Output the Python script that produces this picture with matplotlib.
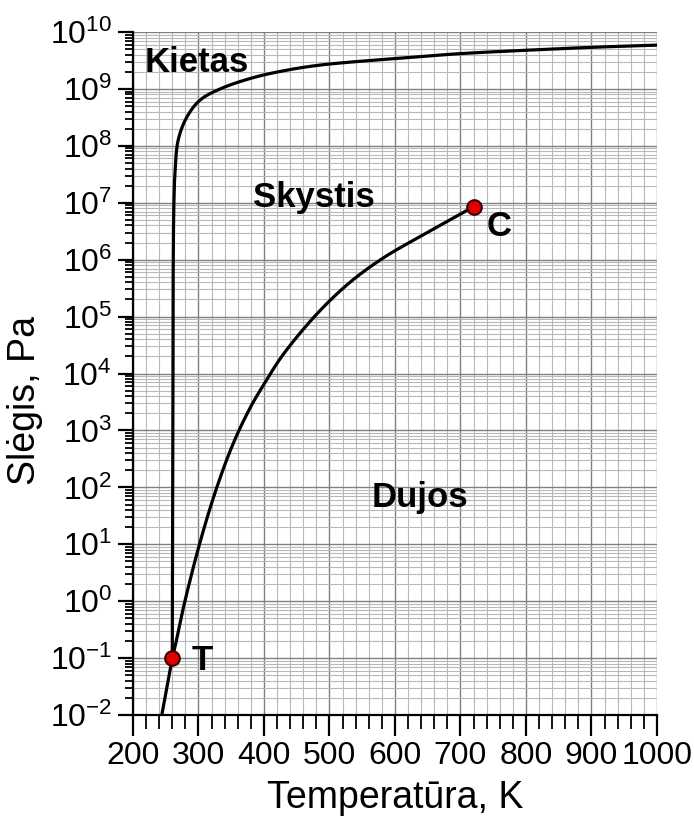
import matplotlib
matplotlib.use("Agg")
import matplotlib.pyplot as plt
import numpy as np
from matplotlib.ticker import MultipleLocator, LogLocator, LogFormatterMathtext, NullFormatter

plt.rcParams['font.family'] = ['Liberation Sans', 'DejaVu Sans']
plt.rcParams['mathtext.fontset'] = 'custom'
plt.rcParams['mathtext.rm'] = 'Liberation Sans'
plt.rcParams['mathtext.it'] = 'Liberation Sans:italic'
plt.rcParams['mathtext.bf'] = 'Liberation Sans:bold'

# Melting curve (solid-liquid), T in K, log10 of pressure in Pa
melt_T = [260, 261, 261.5, 262.5, 264, 269, 282, 302, 333, 384, 435, 486, 562, 608, 699, 801, 898, 1000]
melt_logP = [-1.0, 3.0, 6.0, 7.0, 7.5, 8.1, 8.5, 8.8, 9.0, 9.2, 9.33, 9.42, 9.5, 9.54, 9.62, 9.68, 9.73, 9.77]

# Vaporization curve (liquid-gas)
vap_T = [260, 264, 276, 302, 328, 353, 379, 402, 429, 481, 531, 582, 634, 684, 720]
vap_logP = [-1.0, -0.81, -0.16, 1.02, 2.0, 2.77, 3.4, 3.85, 4.33, 5.05, 5.6, 6.03, 6.38, 6.7, 6.93]

# Sublimation curve (solid-gas)
sub_T = [244, 260]
sub_logP = [-2.0, -1.0]

# Special points
pt_names = ['T', 'C']
pt_T = [260, 720]
pt_logP = [-1.0, 6.93]

# Region labels
region_names = ['Kietas', 'Skystis', 'Dujos']
region_T = [218, 383, 565]
region_logP = [9.46, 7.09, 1.82]


def smooth_line(xs, ys, sx=0.655, sy=57.0, n=24):
    """Centripetal Catmull-Rom rendering of a polyline (line smoothing style)."""
    P = np.column_stack([np.asarray(xs, float) * sx, np.asarray(ys, float) * sy])
    P = np.vstack([2 * P[0] - P[1], P, 2 * P[-1] - P[-2]])
    out = []
    for i in range(1, len(P) - 2):
        p0, p1, p2, p3 = P[i - 1], P[i], P[i + 1], P[i + 2]
        t0 = 0.0
        t1 = t0 + np.linalg.norm(p1 - p0) ** 0.5
        t2 = t1 + np.linalg.norm(p2 - p1) ** 0.5
        t3 = t2 + np.linalg.norm(p3 - p2) ** 0.5
        t = np.linspace(t1, t2, n)[:, None]
        A1 = (t1 - t) / (t1 - t0) * p0 + (t - t0) / (t1 - t0) * p1
        A2 = (t2 - t) / (t2 - t1) * p1 + (t - t1) / (t2 - t1) * p2
        A3 = (t3 - t) / (t3 - t2) * p2 + (t - t2) / (t3 - t2) * p3
        B1 = (t2 - t) / (t2 - t0) * A1 + (t - t0) / (t2 - t0) * A2
        B2 = (t3 - t) / (t3 - t1) * A2 + (t - t1) / (t3 - t1) * A3
        C = (t2 - t) / (t2 - t1) * B1 + (t - t1) / (t2 - t1) * B2
        out.append(C if i == 1 else C[1:])
    C = np.vstack(out)
    return C[:, 0] / sx, 10.0 ** (C[:, 1] / sy)


fig = plt.figure(figsize=(6.94, 8.21), dpi=100)
ax = fig.add_axes([0.1916, 0.129, 0.755, 0.832])

ax.set_yscale('log')
ax.set_xlim(200, 1000)
ax.set_ylim(1e-2, 1e10)

ax.xaxis.set_major_locator(MultipleLocator(100))
ax.xaxis.set_minor_locator(MultipleLocator(20))
ax.yaxis.set_major_locator(LogLocator(base=10, numticks=20))
ax.yaxis.set_minor_locator(LogLocator(base=10, subs=np.arange(2, 10), numticks=200))
ax.yaxis.set_major_formatter(LogFormatterMathtext())
ax.yaxis.set_minor_formatter(NullFormatter())

ax.grid(True, which='major', color='#808080', lw=1.0)
ax.grid(True, which='minor', color='#b8b8b8', lw=0.8)
ax.set_axisbelow(True)

for s in ['top', 'right']:
    ax.spines[s].set_visible(False)
for s in ['left', 'bottom']:
    ax.spines[s].set_linewidth(1.6)
    ax.spines[s].set_color('black')

ax.tick_params(axis='both', which='major', direction='out', length=11, width=1.6, labelsize=23, pad=4)
ax.tick_params(axis='both', which='minor', direction='out', length=6, width=1.3)
ax.tick_params(axis='x', which='major', length=15)
ax.tick_params(axis='x', which='minor', length=10)

lw = 2.3
mx, my = smooth_line(melt_T, melt_logP)
ax.plot(mx, my, color='black', lw=lw)
vx, vy = smooth_line(vap_T, vap_logP)
ax.plot(vx, vy, color='black', lw=lw)
ax.plot(sub_T, 10.0 ** np.array(sub_logP), color='black', lw=lw)

ax.plot(pt_T, 10.0 ** np.array(pt_logP), 'o', color='#e00000', markeredgecolor='#3a0000',
        markeredgewidth=1.5, markersize=10.5, zorder=5, clip_on=False)

for name, t, lp in zip(region_names, region_T, region_logP):
    ax.text(t, 10.0 ** lp, name, fontsize=25, fontweight='bold', ha='left', va='center', zorder=6)

ax.text(290, 10.0 ** -1.035, pt_names[0], fontsize=25, fontweight='bold', ha='left', va='center', zorder=6)
ax.text(740, 10.0 ** 6.58, pt_names[1], fontsize=25, fontweight='bold', ha='left', va='center', zorder=6)

ax.set_xlabel('Temperatūra, K', fontsize=27, labelpad=6)
ax.set_ylabel('Slėgis, Pa', fontsize=27)
ax.yaxis.set_label_coords(-0.172, 0.461)

fig.savefig('out.png', dpi=100)
